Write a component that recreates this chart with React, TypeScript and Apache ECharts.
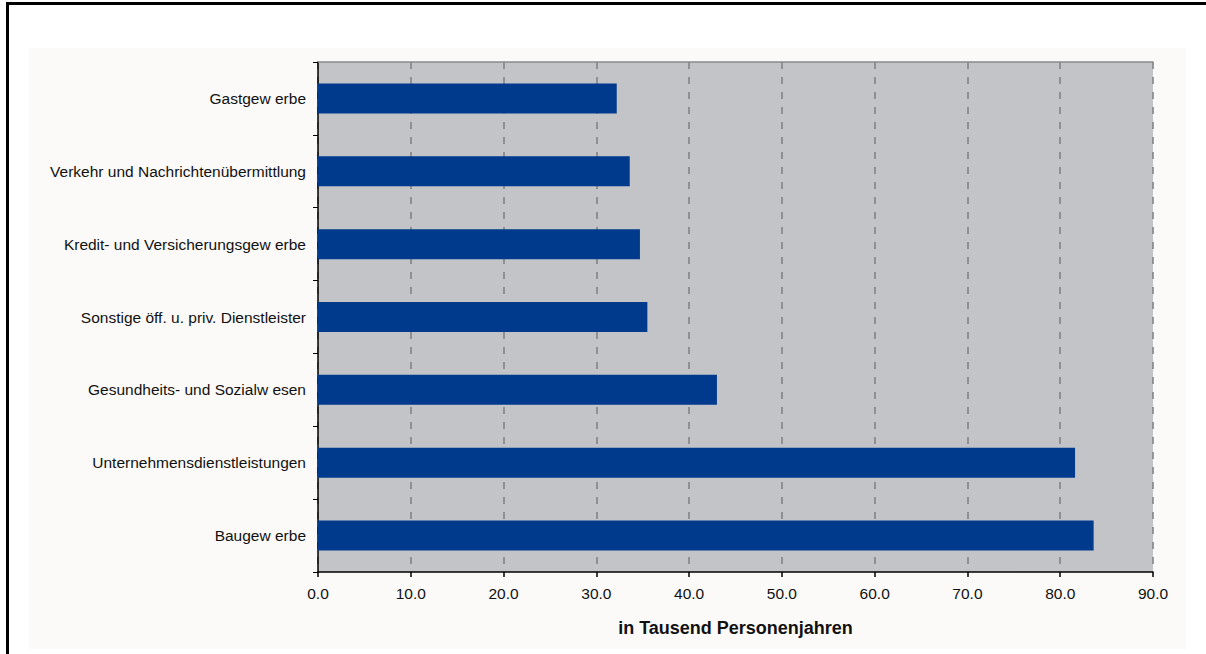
import React, { useEffect, useRef } from "react";
import * as echarts from "echarts";

const categories = [
  "Gastgew erbe",
  "Verkehr und Nachrichtenübermittlung",
  "Kredit- und Versicherungsgew erbe",
  "Sonstige öff. u. priv. Dienstleister",
  "Gesundheits- und Sozialw esen",
  "Unternehmensdienstleistungen",
  "Baugew erbe",
];
const values = [32.2, 33.6, 34.7, 35.5, 43.0, 81.6, 83.6];
const axisTitle = "in Tausend Personenjahren";

export default function App() {
  const ref = useRef<HTMLDivElement>(null);
  useEffect(() => {
    if (!ref.current) return;
    const chart = echarts.init(ref.current, undefined, { renderer: "svg" });
    const font = "'Liberation Sans', Arial, sans-serif";
    chart.setOption({
      animation: false,
      textStyle: { fontFamily: font },
      grid: {
        left: 318,
        top: 62,
        width: 835,
        height: 510,
        show: true,
        backgroundColor: "#c3c4c8",
        borderWidth: 0,
      },
      xAxis: [
        {
          type: "value",
          min: 0,
          max: 90,
          interval: 10,
          position: "bottom",
          axisLine: { show: true, lineStyle: { color: "#000", width: 1.5 } },
          axisTick: { show: true, length: 5, lineStyle: { color: "#000", width: 1.5 } },
          axisLabel: {
            color: "#111",
            fontSize: 15.5,
            fontFamily: font,
            margin: 13,
            formatter: (v: number) => v.toFixed(1),
          },
          splitLine: {
            show: true,
            lineStyle: { color: "#7f7f7f", width: 1.5, type: [7, 8] },
          },
          name: axisTitle,
          nameLocation: "middle",
          nameGap: 47,
          nameTextStyle: {
            fontSize: 18,
            fontWeight: "bold",
            color: "#111",
            fontFamily: font,
          },
        },
        {
          type: "value",
          min: 0,
          max: 90,
          interval: 10,
          position: "top",
          axisLine: { show: true, lineStyle: { color: "#8a8a8a", width: 1.5 } },
          axisTick: { show: false },
          axisLabel: { show: false },
          splitLine: { show: false },
        },
      ],
      yAxis: {
        type: "category",
        data: categories,
        inverse: true,
        axisLine: { show: true, lineStyle: { color: "#000", width: 1.5 } },
        axisTick: { show: true, length: 5, alignWithLabel: false, lineStyle: { color: "#000", width: 1 } },
        axisLabel: { color: "#111", fontSize: 15.5, fontFamily: font, margin: 12 },
        splitLine: { show: false },
      },
      series: [
        {
          type: "bar",
          data: values,
          xAxisIndex: 0,
          barWidth: 30,
          itemStyle: { color: "#003a8c" },
        },
      ],
    });
    return () => chart.dispose();
  }, []);

  return (
    <div
      style={{
        position: "fixed",
        left: 0,
        top: 0,
        width: 1206,
        height: 654,
        background: "#ffffff",
        overflow: "hidden",
      }}
    >
      <div style={{ position: "absolute", left: 6, top: 2, width: 1200, height: 3, background: "#000" }} />
      <div style={{ position: "absolute", left: 6, top: 2, width: 2.5, height: 652, background: "#000" }} />
      <div
        style={{
          position: "absolute",
          left: 29,
          top: 48,
          width: 1157,
          height: 601,
          background: "#fbfaf8",
        }}
      />
      <div ref={ref} style={{ position: "absolute", left: 0, top: 0, width: 1206, height: 654 }} />
    </div>
  );
}
